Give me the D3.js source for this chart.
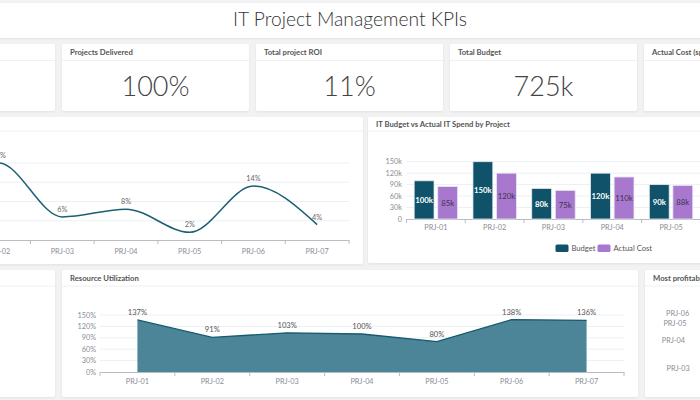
<!DOCTYPE html>
<html><head><meta charset="utf-8">
<script src="https://cdn.jsdelivr.net/npm/d3@7"></script>
<style>
body{margin:0;background:#f2f2f2;}
svg{display:block;font-family:Lato,"Open Sans",sans-serif;}
</style></head>
<body><svg id="c" width="700" height="400"></svg>
<script>
// ---------- data ----------
const categories = ["PRJ-01","PRJ-02","PRJ-03","PRJ-04","PRJ-05","PRJ-06","PRJ-07"];
const roiValues = [16, 20, 6, 8, 2, 14, 4];
const budgetValues = [100, 150, 80, 120, 90, 100, 85];   // k
const actualValues = [85, 120, 75, 110, 88, 95, 80];      // k
const utilValues = [137, 91, 103, 100, 80, 138, 136];     // %
const profitValues = [27.5, 32.5, 5.5, 4, 1.5, 2, 17];    // k
const kpiTitles = ["Total Projects","Projects Delivered","Total project ROI","Total Budget","Actual Cost (spent)"];
const kpiValues = ["7","100%","11%","725k","653k"];
const roiTicks = [0,5,10,15,20];
const budgetTicks = [0,30,60,90,120,150];
const utilTicks = [0,30,60,90,120,150];
const seriesNames = ["Budget","Actual Cost"];

// ---------- styles ----------
const C = {teal:"#0f5269", purple:"#a878cf", grid:"#eceff5", axis:"#b9bcc4", tick:"#8a8d94", label:"#666", title:"#555"};
const TF = 7.3; // tick font size

const svg = d3.select("#c");
const defs = svg.append("defs");
const f = defs.append("filter").attr("id","sh").attr("x","-5%").attr("y","-5%").attr("width","110%").attr("height","115%");
f.append("feDropShadow").attr("dx",0).attr("dy",1).attr("stdDeviation",1.2).attr("flood-color","#000").attr("flood-opacity",0.07);

svg.append("rect").attr("width",700).attr("height",400).attr("fill","#f2f2f2");

// title bar
svg.append("rect").attr("x",-5).attr("y",3).attr("width",710).attr("height",35).attr("fill","#fff").attr("filter","url(#sh)");
const tt = svg.append("text").attr("x",350).attr("y",26).attr("text-anchor","middle")
  .attr("font-size",20).attr("font-weight",300).attr("fill","#333").text("IT Project Management KPIs");
{ const w = tt.node().getComputedTextLength(); tt.attr("font-size", 20*234/w); }

function card(x,y,w,h,title,headerH){
  const g = svg.append("g");
  g.append("rect").attr("x",x).attr("y",y).attr("width",w).attr("height",h).attr("rx",2)
    .attr("fill","#fff").attr("filter","url(#sh)");
  g.append("line").attr("x1",x).attr("x2",x+w).attr("y1",y+headerH).attr("y2",y+headerH)
    .attr("stroke","#f0f0f0");
  g.append("text").attr("x",x+8).attr("y",y+headerH/2+3).attr("font-size",7.7).attr("font-weight",700)
    .attr("fill",C.title).text(title);
  return g;
}

// KPI cards
kpiTitles.forEach((t,i)=>{
  const x = -132 + i*194;
  card(x,44,187,67,t,16.5);
  svg.append("text").attr("x",x+93.5).attr("y",96).attr("text-anchor","middle")
    .attr("font-size",27).attr("font-weight",300).attr("fill","#444").text(kpiValues[i]);
});

// ---------- ROI line chart ----------
card(-140,117,503,147,"Project ROI",14);
const xR = d3.scaleBand().domain(categories).range([-97,349]);
const yR = d3.scaleLinear().domain([0,20]).range([240,163]);
const gR = svg.append("g").attr("font-size",TF);
gR.selectAll(".g").data(roiTicks.slice(1)).join("line")
  .attr("x1",-100).attr("x2",349).attr("y1",d=>yR(d)).attr("y2",d=>yR(d)).attr("stroke",C.grid);
const axR = gR.append("g").attr("transform","translate(0,240)")
  .call(d3.axisBottom(xR).tickSize(0).tickPadding(9));
axR.select(".domain").attr("stroke",C.axis);
axR.selectAll("text").attr("fill",C.tick).attr("font-size",TF).attr("font-family","Lato,sans-serif");
gR.selectAll(".tk").data(categories).join("line")
  .attr("x1",d=>xR(d)+xR.bandwidth()).attr("x2",d=>xR(d)+xR.bandwidth()).attr("y1",240).attr("y2",244).attr("stroke",C.axis);
const cx = d=>xR(d)+xR.bandwidth()/2;
gR.append("path").datum(categories.map((c,i)=>[cx(c),yR(roiValues[i])]))
  .attr("d",d3.line().curve(d3.curveMonotoneX)).attr("fill","none").attr("stroke","#1b5f75").attr("stroke-width",1.5);
gR.selectAll(".pl").data(categories).join("text").attr("x",cx).attr("y",(d,i)=>yR(roiValues[i])-5)
  .attr("text-anchor","middle").attr("fill",C.label).text((d,i)=>roiValues[i]+"%");

// ---------- Budget vs Actual ----------
card(368,117,484,146,"IT Budget vs Actual IT Spend by Project",14);
const xB = d3.scaleBand().domain(categories).range([406.5,818]);
const xB1 = d3.scaleBand().domain(seriesNames).range([0,xB.bandwidth()]).paddingInner(0.158).paddingOuter(0.325);
const yB = d3.scaleLinear().domain([0,150]).range([219,161.7]);
const gB = svg.append("g").attr("font-size",TF);
gB.selectAll(".g").data(budgetTicks.slice(1)).join("line")
  .attr("x1",406.5).attr("x2",818).attr("y1",d=>yB(d)).attr("y2",d=>yB(d)).attr("stroke",C.grid);
gB.selectAll(".yl").data(budgetTicks).join("text").attr("x",402).attr("y",d=>yB(d)+2.6).attr("text-anchor","end")
  .attr("fill",C.tick).text(d=>d===0?"0":d+"k");
const axB = gB.append("g").attr("transform","translate(0,219)")
  .call(d3.axisBottom(xB).tickSize(0).tickPadding(6));
axB.select(".domain").attr("stroke",C.axis);
axB.selectAll("text").attr("fill",C.tick).attr("font-size",TF).attr("font-family","Lato,sans-serif");
gB.selectAll(".tk").data(categories).join("line")
  .attr("x1",d=>xB(d)).attr("x2",d=>xB(d)).attr("y1",219).attr("y2",223).attr("stroke",C.axis);
const series = [budgetValues, actualValues];
const colors = [C.teal, C.purple];
seriesNames.forEach((s,si)=>{
  const vals = series[si];
  gB.selectAll(".b"+si).data(categories).join("rect")
    .attr("x",d=>xB(d)+xB1(s)).attr("width",xB1.bandwidth())
    .attr("y",(d,i)=>yB(vals[i])).attr("height",(d,i)=>219-yB(vals[i]))
    .attr("fill",colors[si]).attr("stroke","#e4eaf1").attr("stroke-width",0.8);
  gB.selectAll(".bl"+si).data(categories).join("text")
    .attr("x",d=>xB(d)+xB1(s)+xB1.bandwidth()/2).attr("y",(d,i)=>(yB(vals[i])+219)/2+3)
    .attr("text-anchor","middle").attr("font-size",7.8).attr("font-weight",si===0?700:400)
    .attr("fill",si===0?"#fff":"#3e3150").text((d,i)=>vals[i]+"k");
});
// legend
const lg = svg.append("g").attr("font-size",7.6).attr("fill","#555");
const lx = [555.5, 597.5];
seriesNames.forEach((s,i)=>{
  lg.append("rect").attr("x",lx[i]).attr("y",244.5).attr("width",13).attr("height",7.5).attr("rx",1.5).attr("fill",colors[i]);
  lg.append("text").attr("x",lx[i]+16).attr("y",251).text(s);
});

// ---------- bottom row ----------
card(-132,270,187,127,"Project Status",16);
card(62,270,576,127,"Resource Utilization",16);
const xU = d3.scaleBand().domain(categories).range([100,624]);
const yU = d3.scaleLinear().domain([0,150]).range([372,315]);
const gU = svg.append("g").attr("font-size",TF);
gU.selectAll(".g").data(utilTicks.slice(1)).join("line")
  .attr("x1",100).attr("x2",624).attr("y1",d=>yU(d)).attr("y2",d=>yU(d)).attr("stroke",C.grid);
gU.selectAll(".yl").data(utilTicks).join("text").attr("x",96).attr("y",d=>yU(d)+2.6).attr("text-anchor","end")
  .attr("fill",C.tick).text(d=>d+"%");
const ux = d=>xU(d)+xU.bandwidth()/2;
gU.append("path").datum(categories.map((c,i)=>[ux(c),yU(utilValues[i])]))
  .attr("d",d3.area().x(d=>d[0]).y0(372).y1(d=>d[1])).attr("fill","#4b8597");
gU.append("path").datum(categories.map((c,i)=>[ux(c),yU(utilValues[i])]))
  .attr("d",d3.line()).attr("fill","none").attr("stroke","#175a6e").attr("stroke-width",1.3);
const axU = gU.append("g").attr("transform","translate(0,372)")
  .call(d3.axisBottom(xU).tickSize(0).tickPadding(7));
axU.select(".domain").attr("stroke",C.axis);
axU.selectAll("text").attr("fill",C.tick).attr("font-size",TF).attr("font-family","Lato,sans-serif");
gU.selectAll(".tk").data(categories).join("line")
  .attr("x1",d=>xU(d)).attr("x2",d=>xU(d)).attr("y1",372).attr("y2",376).attr("stroke",C.axis);
gU.append("line").attr("x1",624).attr("x2",624).attr("y1",372).attr("y2",376).attr("stroke",C.axis);
gU.selectAll(".pl").data(categories).join("text").attr("x",ux).attr("y",(d,i)=>yU(utilValues[i])-5)
  .attr("text-anchor","middle").attr("font-size",7.6).attr("fill","#555").text((d,i)=>utilValues[i]+"%");

// most profitable (pie, mostly outside view)
card(645,270,300,127,"Most profitable Projects",16);
const pcx = 782, pcy = 340, pr = 75;
const arcs = d3.pie().sort(null)(profitValues);
const pcols = ["#0f5269","#a878cf","#4b8597","#7fb3c4","#d6b8ec","#2c7a8f","#c89be0"];
svg.append("g").attr("transform",`translate(${pcx},${pcy})`).selectAll("path").data(arcs).join("path")
  .attr("d",d3.arc().innerRadius(0).outerRadius(pr)).attr("fill",(d,i)=>pcols[i]).attr("stroke","#fff");
svg.append("g").attr("font-size",TF).attr("fill",C.tick).selectAll("text").data(arcs).join("text")
  .each(function(d,i){
    const a = (d.startAngle+d.endAngle)/2;
    const px = pcx + (pr+12)*Math.sin(a), py = pcy - (pr+12)*Math.cos(a);
    const left = Math.sin(a) < 0;
    d3.select(this).attr("x", left ? px-10 : px+10).attr("y", py+3)
      .attr("text-anchor", left ? "end" : "start").text(categories[i]);
  });
</script></body></html>
